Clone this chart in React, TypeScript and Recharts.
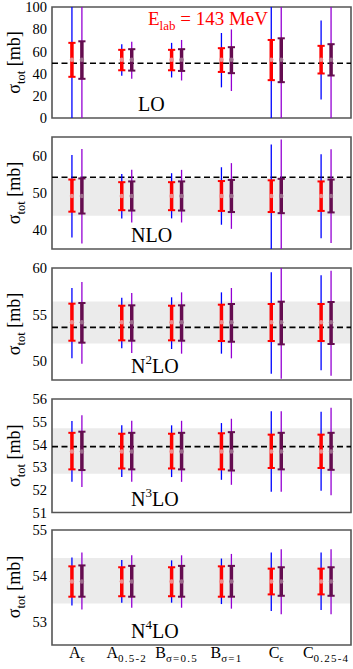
import React from 'react';
import { ComposedChart, Scatter, ErrorBar, XAxis, YAxis, ReferenceArea, ReferenceLine } from 'recharts';

// ---------- data ----------
const categories = [
  { base: 'A', sub: 'ϵ' },
  { base: 'A', sub: '0.5-2' },
  { base: 'B', sub: 'σ=0.5' },
  { base: 'B', sub: 'σ=1' },
  { base: 'C', sub: 'ϵ' },
  { base: 'C', sub: '0.25-4' },
];

const orderLabels = [
  { pre: '', sup: '', post: 'LO' },
  { pre: 'NLO', sup: '', post: '' },
  { pre: 'N', sup: '2', post: 'LO' },
  { pre: 'N', sup: '3', post: 'LO' },
  { pre: 'N', sup: '4', post: 'LO' },
];

const centralValues = [52.5, 49.2, 54.18, 53.69, 53.88];
const dashedValues: (number | null)[] = [49.3, 54.2, 53.64, 53.9, null];
const bandLow: (number | null)[] = [null, 43.9, 51.9, 52.71, 53.4];
const bandHigh: (number | null)[] = [null, 54.0, 56.4, 54.71, 54.39];

const yDomains = [[0, 100], [35, 65], [48, 60], [51, 56], [52.5, 55]];
const majorTicks = [
  [0, 20, 40, 60, 80, 100],
  [40, 50, 60],
  [50, 55, 60],
  [51, 52, 53, 54, 55, 56],
  [53, 54, 55],
];
const minorSteps = [10, 2, 1, 0.2, 0.2];

// [low, high] per category
const loRed = [[37.1, 67.7], [43.0, 61.4], [43.0, 61.4], [41.5, 62.9], [34.1, 70.3], [40.1, 65.0]];
const loBlue = [[0, 100], [38.0, 66.5], [36.5, 67.7], [27.6, 76.6], [0, 100], [16.6, 87.8]];
const loPurple = [[35.3, 69.1], [42.7, 62.0], [42.4, 62.0], [40.4, 63.8], [32.3, 71.8], [38.3, 66.5]];
const loViolet = [[0, 100], [35.3, 68.8], [33.8, 70.3], [24.3, 79.8], [0, 100], [0, 100]];

const nloRed = [[45.0, 53.6], [45.4, 52.9], [45.4, 52.9], [45.2, 53.2], [44.9, 53.4], [45.2, 53.1]];
const nloBlue = [[38.1, 60.2], [43.2, 55.1], [43.2, 55.3], [41.5, 56.9], [35, 63.0], [37.9, 60.4]];
const nloPurple = [[44.5, 53.9], [45.3, 53.1], [45.3, 53.1], [44.9, 53.5], [44.6, 53.8], [44.8, 53.6]];
const nloViolet = [[36.5, 61.8], [42.1, 56.2], [42.1, 56.2], [40.4, 58.0], [35, 64.3], [36.6, 61.7]];

const n2loRed = [[52.21, 56.18], [52.25, 55.96], [52.25, 55.96], [52.18, 56.07], [52.18, 56.14], [52.18, 56.14]];
const n2loBlue = [[50.32, 57.86], [51.39, 56.82], [51.32, 56.86], [50.82, 57.39], [48.68, 59.54], [49.04, 59.21]];
const n2loPurple = [[52.0, 56.25], [52.21, 56.0], [52.21, 56.0], [52.1, 56.14], [51.82, 56.39], [51.86, 56.36]];
const n2loViolet = [[49.75, 58.5], [50.89, 57.32], [50.82, 57.39], [50.32, 57.86], [48.14, 60.0], [48.46, 59.71]];

const n3loRed = [[52.9, 54.51], [52.94, 54.47], [52.94, 54.47], [52.9, 54.49], [52.96, 54.43], [52.96, 54.43]];
const n3loBlue = [[52.35, 55.03], [52.56, 54.84], [52.56, 54.84], [52.44, 54.94], [51.91, 55.46], [51.96, 55.44]];
const n3loPurple = [[52.87, 54.56], [52.9, 54.51], [52.9, 54.51], [52.85, 54.54], [52.9, 54.51], [52.88, 54.51]];
const n3loViolet = [[52.12, 55.28], [52.35, 55.04], [52.35, 55.04], [52.22, 55.13], [51.91, 55.46], [51.76, 55.62]];

const n4loRed = [[53.55, 54.21], [53.56, 54.19], [53.56, 54.19], [53.55, 54.21], [53.6, 54.16], [53.6, 54.16]];
const n4loBlue = [[53.36, 54.4], [53.42, 54.35], [53.42, 54.34], [53.39, 54.38], [53.24, 54.51], [53.26, 54.51]];
const n4loPurple = [[53.55, 54.23], [53.55, 54.22], [53.55, 54.22], [53.55, 54.22], [53.57, 54.19], [53.57, 54.19]];
const n4loViolet = [[53.27, 54.51], [53.31, 54.45], [53.31, 54.45], [53.29, 54.48], [53.17, 54.58], [53.17, 54.58]];

const redSets = [loRed, nloRed, n2loRed, n3loRed, n4loRed];
const blueSets = [loBlue, nloBlue, n2loBlue, n3loBlue, n4loBlue];
const purpleSets = [loPurple, nloPurple, n2loPurple, n3loPurple, n4loPurple];
const violetSets = [loViolet, nloViolet, n2loViolet, n3loViolet, n4loViolet];

// ---------- layout / style ----------
const SERIF = "'Liberation Serif', 'DejaVu Serif', serif";
const FRAME = '#555555';
const panelTops = [7, 137, 268, 399, 529.5];
const panelHeights = [111, 112, 112, 113.5, 115];
const MT = 10;
const OFF = 0.1;

function range(a: number, b: number, step: number) {
  const out: number[] = [];
  const n = Math.round((b - a) / step);
  for (let k = 0; k <= n; k++) out.push(Number((a + k * step).toFixed(4)));
  return out;
}

function CatTick(props: any) {
  const { x, y, payload } = props;
  const c = categories[Math.round(payload.value) - 1];
  if (!c) return null;
  return (
    <text x={x} y={y + 13} textAnchor="middle" fontFamily={SERIF} fontSize={16} fill="#000">
      {c.base}
      <tspan dy={4} fontSize={11} letterSpacing={c.sub.length > 2 ? 1.2 : 0}>{c.sub}</tspan>
    </text>
  );
}

const emptyShape = () => <g />;
const redDot = (p: any) => <circle cx={p.cx} cy={p.cy} r={2.2} fill="#ee8c8c" />;
const purpleDot = (p: any) => <circle cx={p.cx} cy={p.cy} r={2.2} fill="#9c6b8c" />;

function Panel({ i }: { i: number }) {
  const isLast = i === 4;
  const h = panelHeights[i];
  const dom = yDomains[i];
  const c = centralValues[i];
  const mk = (vals: number[][], off: number) =>
    vals.map((r, k) => ({ x: k + 1 + off, y: c, err: [c - r[0], r[1] - c] }));
  const minor = range(dom[0], dom[1], minorSteps[i]);
  const major = majorTicks[i];
  const common: any = {
    type: 'number',
    domain: dom,
    allowDataOverflow: true,
    dataKey: 'y',
    axisLine: false,
    interval: 0,
  };
  const tickLineStyle = { stroke: FRAME, strokeWidth: 1.2 };
  const bottom = isLast ? 1 : 10;
  const xh = isLast ? 24 : 0;
  return (
    <div style={{ position: 'absolute', left: 0, top: panelTops[i] - MT }}>
      <ComposedChart
        width={353}
        height={MT + h + bottom + xh}
        margin={{ top: MT, right: 2, bottom, left: 7 }}
      >
        <XAxis
          type="number"
          dataKey="x"
          domain={[0.5, 6.5]}
          allowDataOverflow
          ticks={[1, 2, 3, 4, 5, 6]}
          interval={0}
          hide={!isLast}
          height={xh}
          axisLine={false}
          tickLine={false}
          tickSize={0}
          tickMargin={0}
          tick={(p: any) => <CatTick {...p} />}
        />
        <YAxis yAxisId="lmaj" {...common} mirror width={0} ticks={major} tickSize={5} tickLine={tickLineStyle} tickFormatter={() => ''} />
        <YAxis yAxisId="lmin" {...common} mirror width={0} ticks={minor} tickSize={3} tickLine={tickLineStyle} tickFormatter={() => ''} />
        <YAxis yAxisId="rmaj" {...common} orientation="right" mirror width={0} ticks={major} tickSize={5} tickLine={tickLineStyle} tickFormatter={() => ''} />
        <YAxis yAxisId="rmin" {...common} orientation="right" mirror width={0} ticks={minor} tickSize={3} tickLine={tickLineStyle} tickFormatter={() => ''} />
        <YAxis
          yAxisId="main"
          {...common}
          width={45}
          ticks={major}
          tickLine={false}
          tickSize={0}
          tickMargin={5}
          tick={{ fontFamily: SERIF, fontSize: 14.5, fill: '#000' }}
        />
        {bandLow[i] != null && (
          <ReferenceArea
            yAxisId="main"
            x1={0.5}
            x2={6.5}
            y1={bandLow[i] as number}
            y2={bandHigh[i] as number}
            fill="#ebebeb"
            fillOpacity={1}
            stroke="none"
          />
        )}
        {dashedValues[i] != null && (
          <ReferenceLine yAxisId="main" y={dashedValues[i] as number} stroke="#000" strokeWidth={1.6} strokeDasharray="6 3.5" />
        )}
        <Scatter yAxisId="main" data={mk(blueSets[i], -OFF)} shape={emptyShape} isAnimationActive={false}>
          <ErrorBar dataKey="err" direction="y" width={0} stroke="#0000ff" strokeWidth={1.3} isAnimationActive={false} />
        </Scatter>
        <Scatter yAxisId="main" data={mk(violetSets[i], OFF)} shape={emptyShape} isAnimationActive={false}>
          <ErrorBar dataKey="err" direction="y" width={0} stroke="#9400d3" strokeWidth={1.3} isAnimationActive={false} />
        </Scatter>
        <Scatter yAxisId="main" data={mk(redSets[i], -OFF)} shape={redDot} isAnimationActive={false}>
          <ErrorBar dataKey="err" direction="y" width={0} stroke="#ff0000" strokeWidth={3.5} isAnimationActive={false} />
          <ErrorBar dataKey="err" direction="y" width={3.6} stroke="#ff0000" strokeWidth={2} isAnimationActive={false} />
        </Scatter>
        <Scatter yAxisId="main" data={mk(purpleSets[i], OFF)} shape={purpleDot} isAnimationActive={false}>
          <ErrorBar dataKey="err" direction="y" width={0} stroke="#650d50" strokeWidth={3.5} isAnimationActive={false} />
          <ErrorBar dataKey="err" direction="y" width={3.6} stroke="#650d50" strokeWidth={2} isAnimationActive={false} />
        </Scatter>
        <ReferenceArea
          yAxisId="main"
          x1={0.5}
          x2={6.5}
          y1={dom[0]}
          y2={dom[1]}
          fill="none"
          stroke={FRAME}
          strokeWidth={1.6}
        />
      </ComposedChart>
    </div>
  );
}

function Overlay() {
  return (
    <svg
      width={353}
      height={669}
      style={{ position: 'absolute', left: 0, top: 0, pointerEvents: 'none' }}
    >
      <text x={148} y={25} fill="#ff0000" fontFamily={SERIF} fontSize={19}>
        E<tspan dy={5} fontSize={13}>lab</tspan>
        <tspan dy={-5}> = 143 MeV</tspan>
      </text>
      {orderLabels.map((o, i) => {
        const baseY = panelTops[i] + panelHeights[i] - 7;
        const x = i === 0 ? 138 : 131;
        return (
          <text key={i} x={x} y={baseY} fontFamily={SERIF} fontSize={20} fill="#000">
            {o.pre}
            {o.sup ? <tspan dy={-9} fontSize={13}>{o.sup}</tspan> : null}
            {o.sup ? <tspan dy={9}>{o.post}</tspan> : o.post}
          </text>
        );
      })}
      {panelTops.map((t, i) => {
        const cy = t + panelHeights[i] / 2;
        return (
          <text
            key={'y' + i}
            transform={`translate(20,${cy}) rotate(-90)`}
            textAnchor="middle"
            fontFamily={SERIF}
            fontSize={18}
            fill="#000"
          >
            σ<tspan dy={5} fontSize={12.5}>tot</tspan>
            <tspan dy={-5}> [mb]</tspan>
          </text>
        );
      })}
    </svg>
  );
}

export default function App() {
  return (
    <div style={{ position: 'absolute', left: 0, top: 0, width: 353, height: 669, background: '#fff' }}>
      {[0, 1, 2, 3, 4].map((i) => (
        <Panel key={i} i={i} />
      ))}
      <Overlay />
    </div>
  );
}
